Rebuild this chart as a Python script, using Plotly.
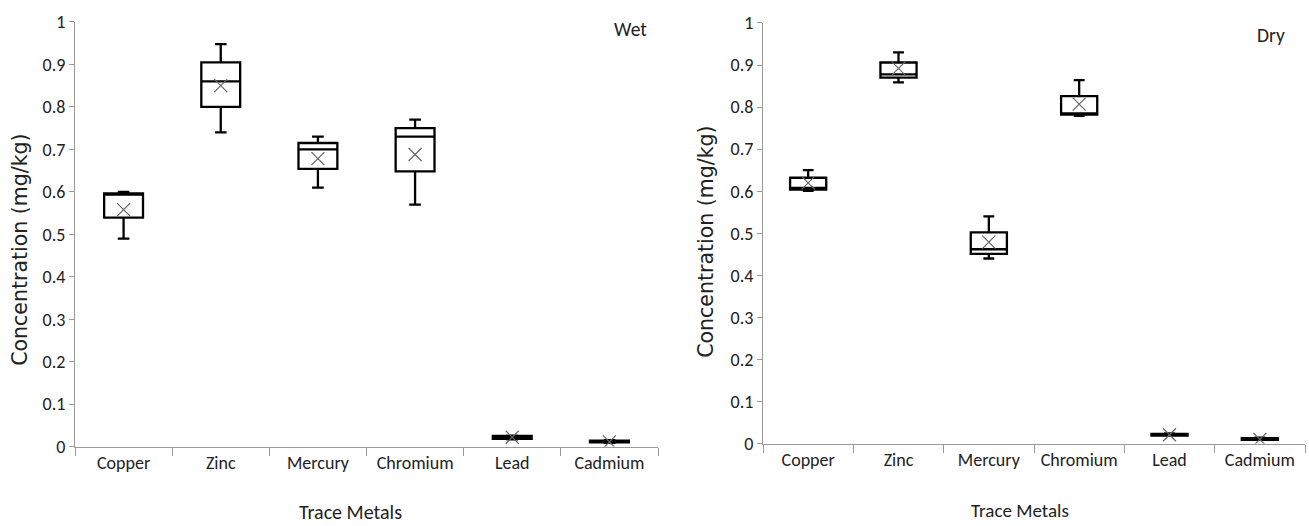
import plotly.graph_objects as go

metals = ["Copper", "Zinc", "Mercury", "Chromium", "Lead", "Cadmium"]

# Wet season
wet_low = [0.49, 0.74, 0.61, 0.57, 0.017, 0.009]
wet_q1 = [0.539, 0.80, 0.654, 0.648, 0.018, 0.010]
wet_med = [0.595, 0.86, 0.70, 0.73, 0.022, 0.012]
wet_q3 = [0.596, 0.905, 0.715, 0.75, 0.025, 0.014]
wet_high = [0.60, 0.948, 0.73, 0.77, 0.026, 0.015]
wet_mean = [0.558, 0.85, 0.678, 0.688, 0.022, 0.011]

# Dry season
dry_low = [0.601, 0.859, 0.44, 0.779, 0.019, 0.009]
dry_q1 = [0.604, 0.870, 0.451, 0.782, 0.019, 0.009]
dry_med = [0.608, 0.878, 0.462, 0.785, 0.021, 0.011]
dry_q3 = [0.632, 0.906, 0.502, 0.826, 0.023, 0.013]
dry_high = [0.650, 0.930, 0.540, 0.864, 0.024, 0.014]
dry_mean = [0.620, 0.892, 0.479, 0.807, 0.021, 0.010]

y_ticks = [0, 0.1, 0.2, 0.3, 0.4, 0.5, 0.6, 0.7, 0.8, 0.9, 1]
y_labels = ["0", "0.1", "0.2", "0.3", "0.4", "0.5", "0.6", "0.7", "0.8", "0.9", "1"]

CAL = "Carlito, Lato, sans-serif"
WIDE = "DejaVu Sans, Verdana, sans-serif"
AX = "#9a9a9a"

fig = go.Figure()

def add_panel(xa, ya, lo, q1, med, q3, hi, mean):
    fig.add_trace(go.Box(
        x=metals, q1=q1, median=med, q3=q3, lowerfence=lo, upperfence=hi,
        xaxis=xa, yaxis=ya, width=0.4, whiskerwidth=0.3,
        fillcolor="rgba(255,255,255,0)",
        line=dict(color="black", width=2.3), boxpoints=False,
        showlegend=False, hoverinfo="skip"))
    fig.add_trace(go.Scatter(
        x=metals, y=mean, xaxis=xa, yaxis=ya, mode="markers",
        marker=dict(symbol="x-thin-open", size=13, color="#666666",
                    line=dict(color="#666666", width=1.2)),
        showlegend=False, hoverinfo="skip"))

add_panel("x", "y", wet_low, wet_q1, wet_med, wet_q3, wet_high, wet_mean)
add_panel("x2", "y2", dry_low, dry_q1, dry_med, dry_q3, dry_high, dry_mean)

W, H = 1309, 526
# observed effective vertical drawing area in the screenshot
TOP, HEFF = 10, 504.5

def xdom(a, b):
    return [a / W, b / W]

def py(y):
    return 1 - (y - TOP) / HEFF

def ydom(top, bottom):
    return [py(bottom), py(top)]

xaxis_common = dict(
    type="category", range=[-0.5, 5.5], showline=True, linecolor=AX, linewidth=1,
    ticks="outside", tickson="boundaries", ticklen=8, tickcolor=AX,
    showgrid=False, zeroline=False,
    tickfont=dict(family=CAL, size=18, color="#222222"), fixedrange=True)
yaxis_common = dict(
    range=[0, 1], tickvals=y_ticks, ticktext=y_labels, showline=True, linecolor=AX,
    linewidth=1, ticks="outside", ticklen=5, tickcolor=AX, showgrid=False,
    zeroline=False, tickfont=dict(family=CAL, size=18, color="#222222"),
    fixedrange=True)

fig.update_layout(
    width=W, height=H, margin=dict(l=0, r=0, t=0, b=0),
    paper_bgcolor="white", plot_bgcolor="white",
    xaxis=dict(domain=xdom(75, 658), anchor="y", **xaxis_common),
    yaxis=dict(domain=ydom(21, 446), anchor="x", **yaxis_common),
    xaxis2=dict(domain=xdom(763, 1305), anchor="y2", **xaxis_common),
    yaxis2=dict(domain=ydom(22, 443), anchor="x2", **yaxis_common),
)

def ann(text, x, y, size, family, angle=0):
    fig.add_annotation(text=text, x=x / W, y=py(y), xref="paper", yref="paper",
                       showarrow=False, textangle=angle,
                       font=dict(family=family, size=size, color="#222222"),
                       xanchor="center", yanchor="middle")

ann("Concentration (mg/kg)", 20, 249, 20.5, WIDE, -90)
ann("Concentration (mg/kg)", 706, 241, 20.5, WIDE, -90)
ann("Trace Metals", 350, 511, 20, CAL)
ann("Trace Metals", 1020, 510, 19, CAL)
ann("Wet", 630, 28, 19.5, CAL)
ann("Dry", 1271, 34, 19.5, CAL)

fig.write_html("out.html")
